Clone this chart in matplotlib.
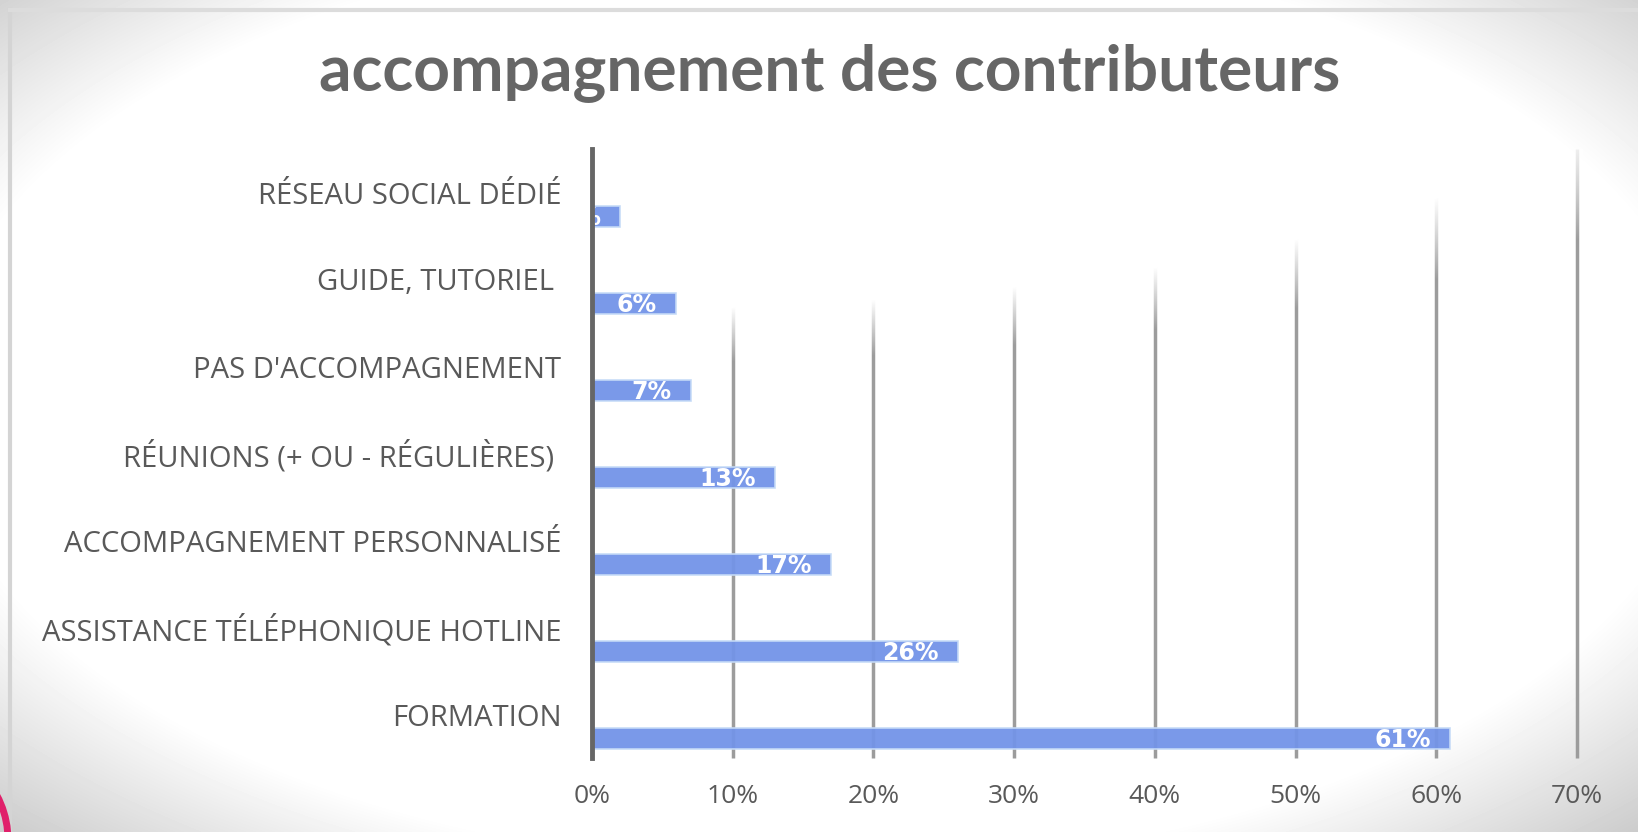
import numpy as np
import matplotlib
matplotlib.use("Agg")
import matplotlib.pyplot as plt
from matplotlib.patches import Ellipse

# data (bottom to top)
categories = ["FORMATION", "ASSISTANCE TÉLÉPHONIQUE HOTLINE", "ACCOMPAGNEMENT PERSONNALISÉ",
              "RÉUNIONS (+ OU - RÉGULIÈRES) ", "PAS D'ACCOMPAGNEMENT", "GUIDE, TUTORIEL ",
              "RÉSEAU SOCIAL DÉDIÉ"]
values = [0.61, 0.26, 0.17, 0.13, 0.07, 0.06, 0.02]
x_ticks = [0, 0.1, 0.2, 0.3, 0.4, 0.5, 0.6, 0.7]
title = "accompagnement des contributeurs"

W, H = 1638, 832
TEXT = "#595959"
BAR = "#7394e8"

plt.rcParams['font.family'] = ['Open Sans', 'DejaVu Sans']

fig = plt.figure(figsize=(W / 100, H / 100), dpi=100)

# background vignette
bg = fig.add_axes([0, 0, 1, 1], zorder=-10)
yy, xx = np.mgrid[0:H, 0:W]
d = np.sqrt(((xx - 820) / 950.0) ** 2 + ((yy - 400) / 500.0) ** 2)
gray = 1 - 0.7 * np.clip(d - 0.93, 0, None)
bg.imshow(np.clip(gray, 0.74, 1), cmap="gray", vmin=0, vmax=1, aspect="auto",
          extent=[0, W, H, 0])
bg.plot([10, 10], [10, H], color="#d4d4d4", lw=3)
bg.plot([10, W], [10, 10], color="#dcdcdc", lw=3)
bg.set_xlim(0, W)
bg.set_ylim(H, 0)
bg.axis("off")

# main axes: 0% at x=592, 70% at x=1577, top 149, bottom 758 (pixels)
left, right, top, bottom = 592, 1577, 149, 758
ax = fig.add_axes([left / W, 1 - bottom / H, (right - left) / W, (bottom - top) / H])
ax.set_facecolor("none")

ax.vlines(x_ticks[1:], -0.5, len(categories) - 0.5, color="#9c9c9c", linewidth=2.5,
          zorder=1, clip_on=False)

# white glow fading the upper part of the gridlines
gy, gx = np.mgrid[top:bottom, left:right + 6]
dd = np.sqrt(((gx - 600) / 1060.0) ** 2 + ((gy - 50) / 270.0) ** 2)
glow = np.ones(dd.shape + (4,))
glow[..., 3] = 1 - np.clip((dd - 0.96) / 0.2, 0, 1)
ax.imshow(glow, extent=[0, 0.7 * (right + 6 - left) / (right - left), -0.5, len(categories) - 0.5],
          aspect="auto", zorder=1.5, interpolation="bilinear", clip_on=False)
ax.set_xlim(0, 0.7)
ax.set_ylim(-0.5, len(categories) - 0.5)

pos = np.arange(len(categories))
bars = ax.barh(pos - 0.28, values, height=0.24, color=BAR, edgecolor="#c6dbf7",
               linewidth=1.2, alpha=0.95, zorder=2)

for b, v in zip(bars, values):
    ax.annotate(f"{v:.0%}", (v, b.get_y() + b.get_height() / 2), xytext=(-14, -1),
                textcoords="offset points", ha="right", va="center", color="white",
                fontsize=17, fontweight="bold", family=["DejaVu Sans"], zorder=5,
                annotation_clip=False, clip_on=True)

for s in ["top", "right", "bottom"]:
    ax.spines[s].set_visible(False)
ax.spines["left"].set_color("#666666")
ax.spines["left"].set_linewidth(3.5)
ax.spines["left"].set_zorder(6)

ax.set_yticks(pos)
ylabels = ax.set_yticklabels(categories, fontsize=18, color=TEXT)
ax.tick_params(axis="y", length=0, pad=22)
ax.set_xticks(x_ticks)
ax.set_xticklabels([f"{t:.0%}" for t in x_ticks], fontsize=19, color=TEXT)
ax.tick_params(axis="x", length=0, pad=19)

t = fig.text(830 / W, 1 - 73 / H, title, ha="center", va="center", fontsize=44,
             fontweight="bold", color="#666666", family=["Lato", "DejaVu Sans"])
fig.canvas.draw()
w = t.get_window_extent().width
t.set_fontsize(44 * 1020 / w)
# longest category label spans about 528 px in the reference
lw = ylabels[1].get_window_extent().width
for lab in ylabels:
    lab.set_fontsize(18 * 520 / lw)

# pink ring fragment at bottom-left
fig.patches.append(Ellipse((-87 / W, 1 - 840 / H), 190 / W, 190 / H, fill=False,
                           edgecolor="#e0206a", linewidth=5, transform=fig.transFigure,
                           figure=fig))

fig.savefig("out.png", dpi=100)
